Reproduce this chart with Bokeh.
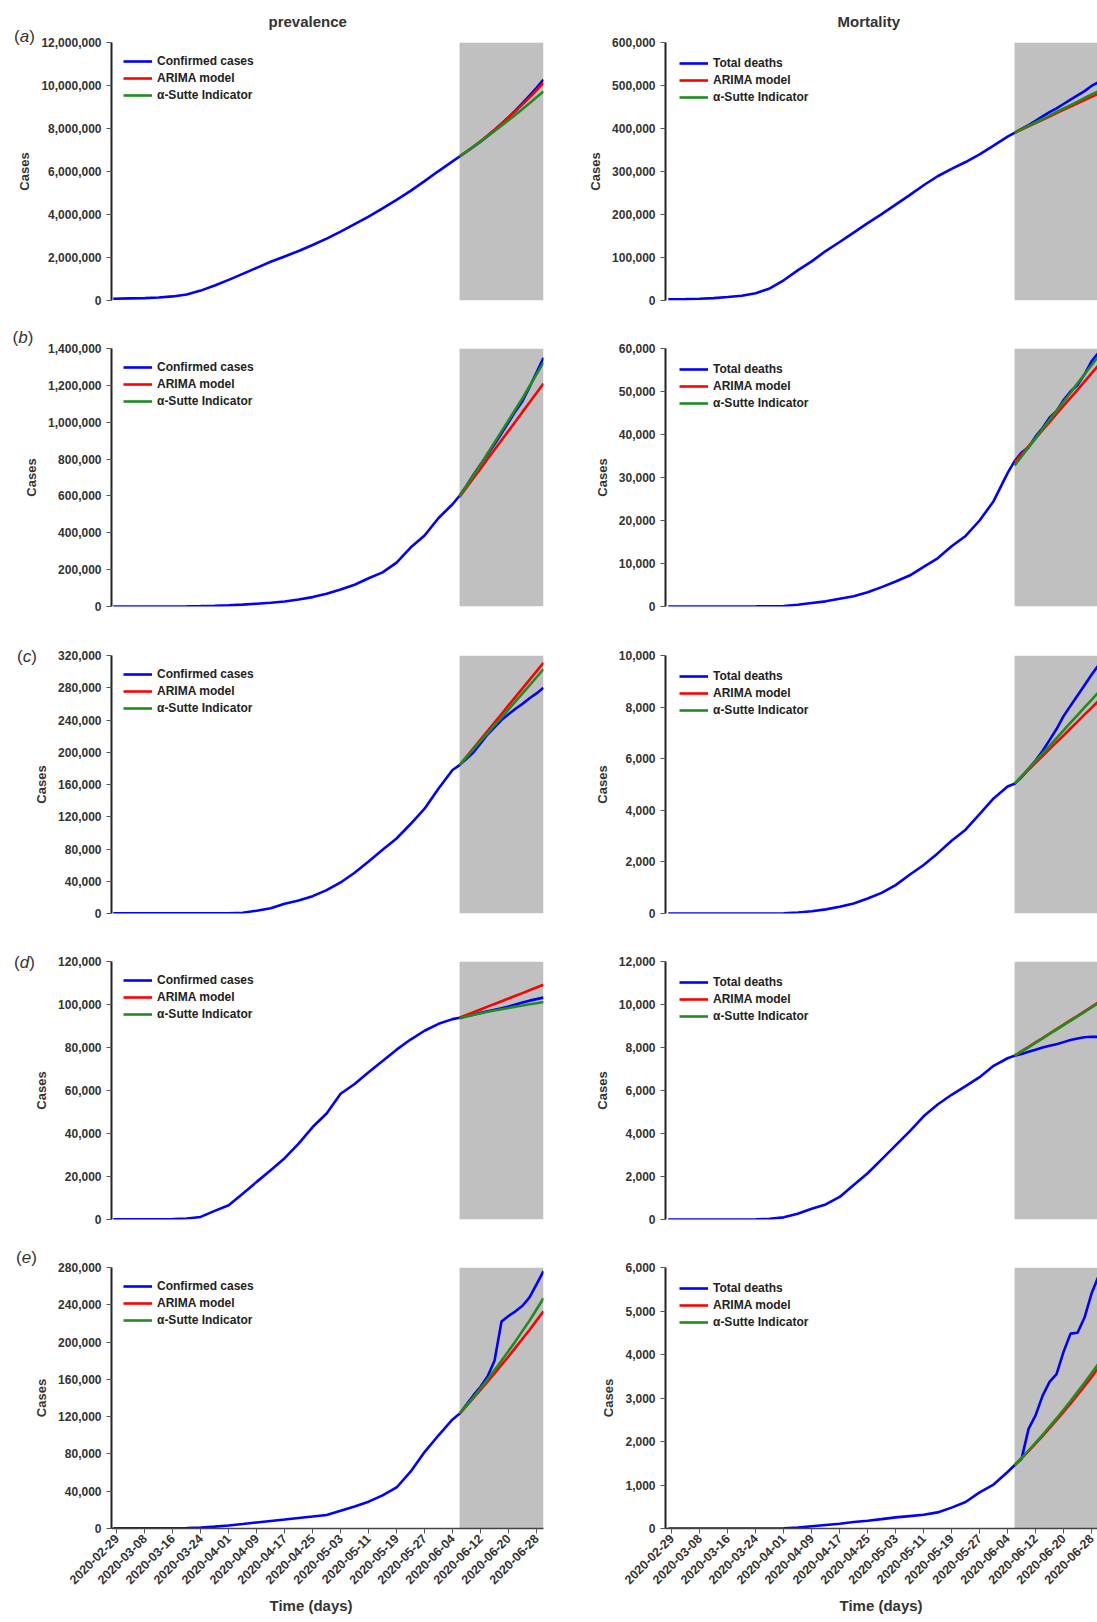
import math
import pandas as pd
from bokeh.plotting import figure
from bokeh.models import (Range1d, FixedTicker, NumeralTickFormatter, DatetimeTickFormatter,
                          BoxAnnotation, Legend, LegendItem, Title, Div)
from bokeh.layouts import column, row
from bokeh.embed import file_html
from bokeh.resources import INLINE

# ---------------- categories / labels ----------------
hist_dates = ["2020-02-28", "2020-03-04", "2020-03-08", "2020-03-12", "2020-03-16", "2020-03-20",
              "2020-03-24", "2020-03-28", "2020-04-01", "2020-04-05", "2020-04-09", "2020-04-13",
              "2020-04-17", "2020-04-21", "2020-04-25", "2020-04-29", "2020-05-03", "2020-05-07",
              "2020-05-11", "2020-05-15", "2020-05-19", "2020-05-23", "2020-05-27", "2020-05-31",
              "2020-06-04"]
test_dates = ["2020-06-06", "2020-06-08", "2020-06-10", "2020-06-12", "2020-06-14", "2020-06-16",
              "2020-06-18", "2020-06-20", "2020-06-22", "2020-06-24", "2020-06-26", "2020-06-28",
              "2020-06-30"]
x_tick_dates = ["2020-02-29", "2020-03-08", "2020-03-16", "2020-03-24", "2020-04-01", "2020-04-09",
                "2020-04-17", "2020-04-25", "2020-05-03", "2020-05-11", "2020-05-19", "2020-05-27",
                "2020-06-04", "2020-06-12", "2020-06-20", "2020-06-28"]
forecast_start = "2020-06-06"
col_titles = ["prevalence", "Mortality"]
row_letters = ["a", "b", "c", "d", "e"]
first_series = ["Confirmed cases", "Total deaths"]
arima_label = "ARIMA model"
sutte_label = "\u03b1-Sutte Indicator"
y_label = "Cases"
x_label = "Time (days)"

# ---------------- data (thousands) ----------------
# (a)
a_cases_hist_k = [80, 100, 110, 140, 190, 280, 460, 700, 960, 1240, 1520, 1800, 2050, 2300, 2580,
                  2880, 3200, 3550, 3900, 4280, 4680, 5100, 5550, 6020, 6470]
a_cases_test_k = [6700, 6920, 7150, 7390, 7640, 7930, 8220, 8520, 8840, 9180, 9530, 9890, 10270]
a_cases_arima_k = [6700, 6930, 7160, 7410, 7670, 7940, 8220, 8510, 8810, 9120, 9440, 9780, 10120]
a_cases_sutte_k = [6700, 6930, 7160, 7390, 7640, 7880, 8130, 8380, 8640, 8910, 9170, 9450, 9720]
a_deaths_hist_k = [3, 3.3, 4, 5.5, 8, 11, 17, 28, 47, 70, 91, 115, 136, 158, 180, 201, 223, 245,
                   268, 289, 306, 322, 340, 360, 381]
a_deaths_test_k = [390, 399, 408, 418, 428, 438, 447, 457, 467, 477, 487, 499, 508]
a_deaths_arima_k = [390, 397.6, 405.2, 412.8, 420.4, 428, 435.6, 443.2, 450.8, 458.4, 466, 473.6, 481]
a_deaths_sutte_k = [390, 398, 406, 414, 422, 430, 438.5, 446.5, 454.5, 462.5, 471, 479, 487]
# (b)
b_cases_hist_k = [0, 0, 0, 0.1, 0.2, 1, 2, 3.5, 6, 10, 15, 20, 27, 38, 51, 69, 92, 118, 153, 185,
                  238, 320, 385, 480, 555]
b_cases_test_k = [601, 655, 715, 770, 825, 880, 940, 1000, 1060, 1115, 1190, 1270, 1350]
b_cases_arima_k = [595, 646, 697, 748, 800, 851, 902, 953, 1004, 1056, 1107, 1158, 1210]
b_cases_sutte_k = [598, 655, 712, 770, 830, 890, 950, 1010, 1070, 1130, 1195, 1260, 1325]
b_deaths_hist_k = [0, 0, 0, 0, 0, 0.01, 0.03, 0.06, 0.1, 0.4, 0.8, 1.2, 1.8, 2.4, 3.3, 4.5, 5.8, 7.2,
                   9.2, 11.2, 14, 16.4, 20, 24.5, 31]
b_deaths_test_k = [33.8, 35.8, 37, 39.5, 41.5, 43.9, 45.5, 48, 50, 51.5, 54, 57, 59]
b_deaths_arima_k = [33.5, 35.4, 37.3, 39.1, 41, 42.9, 44.8, 46.7, 48.5, 50.4, 52.3, 54.2, 56.1]
b_deaths_sutte_k = [32.8, 34.9, 37, 39.1, 41.3, 43.4, 45.5, 47.6, 49.7, 51.9, 54, 56.1, 58.2]
# (c)
c_cases_hist_k = [0.1, 0.1, 0.1, 0.1, 0.1, 0.1, 0.1, 0.1, 0.3, 1, 3.5, 6.5, 12, 16, 21.5, 29, 38.5,
                  50.5, 64.5, 79, 93, 111, 130, 155, 178]
c_cases_test_k = [184, 192, 200, 211, 222, 231, 240, 247, 254, 260, 267, 273, 280]
c_cases_arima_k = [184, 194.6, 205.2, 215.8, 226.3, 236.9, 247.5, 258.1, 268.7, 279.3, 289.8, 300.4, 311]
c_cases_sutte_k = [184, 194, 204, 214, 223.5, 233.5, 243, 253, 263, 273, 283, 293, 303]
c_deaths_hist_k = [0, 0, 0, 0, 0, 0, 0, 0, 0.01, 0.04, 0.09, 0.16, 0.26, 0.39, 0.58, 0.8, 1.1, 1.5,
                   1.88, 2.33, 2.82, 3.25, 3.85, 4.46, 4.92]
c_deaths_test_k = [5.03, 5.28, 5.6, 5.93, 6.3, 6.72, 7.15, 7.65, 8.05, 8.45, 8.85, 9.25, 9.63]
c_deaths_arima_k = [5.03, 5.3, 5.57, 5.84, 6.1, 6.37, 6.64, 6.9, 7.17, 7.44, 7.71, 7.97, 8.24]
c_deaths_sutte_k = [5.03, 5.32, 5.62, 5.91, 6.21, 6.5, 6.8, 7.1, 7.4, 7.69, 7.99, 8.28, 8.58]
# (d)
d_cases_hist_k = [0.1, 0.1, 0.1, 0.1, 0.2, 0.5, 1.2, 4, 6.6, 12, 17.5, 22.9, 28.5, 35.3, 43, 49.3,
                  58.5, 63, 68.5, 73.7, 79, 83.7, 87.8, 91, 93.2]
d_cases_test_k = [93.8, 94.6, 95.3, 96.1, 96.9, 97.6, 98.3, 99.1, 100, 100.9, 101.8, 102.5, 103.2]
d_cases_arima_k = [93.8, 95.1, 96.4, 97.7, 99, 100.2, 101.5, 102.8, 104.1, 105.3, 106.6, 107.9, 109.2]
d_cases_sutte_k = [93.5, 94.4, 95.2, 95.9, 96.6, 97.2, 97.8, 98.4, 99, 99.5, 100.1, 100.6, 101.2]
d_deaths_hist_k = [0, 0, 0, 0, 0, 0, 0.01, 0.03, 0.1, 0.27, 0.5, 0.7, 1.05, 1.6, 2.15, 2.8, 3.45, 4.1,
                   4.8, 5.35, 5.8, 6.2, 6.62, 7.15, 7.5]
d_deaths_test_k = [7.62, 7.7, 7.8, 7.9, 8.0, 8.08, 8.15, 8.25, 8.35, 8.42, 8.48, 8.5, 8.49]
d_deaths_arima_k = [7.62, 7.83, 8.03, 8.24, 8.44, 8.65, 8.86, 9.06, 9.27, 9.47, 9.68, 9.89, 10.1]
d_deaths_sutte_k = [7.62, 7.82, 8.01, 8.22, 8.42, 8.63, 8.83, 9.04, 9.24, 9.45, 9.65, 9.86, 10.07]
# (e)
e_cases_hist_k = [0.2, 0.2, 0.2, 0.2, 0.3, 0.5, 1, 2, 3.2, 4.8, 6.5, 8.1, 9.6, 11.2, 12.8, 14.5, 19,
                  23.7, 28.8, 35.5, 44, 61, 82, 100, 117]
e_cases_test_k = [123, 133, 143, 152, 163, 180, 222, 228, 233, 239, 248, 262, 276]
e_cases_arima_k = [123, 131.5, 140, 148.7, 157.5, 166.5, 175.5, 184.5, 194, 203.5, 213, 223, 233]
e_cases_sutte_k = [123, 132, 141, 150.5, 160, 170, 180, 190.5, 201, 212, 223, 235, 247]
e_deaths_hist_k = [0, 0, 0, 0, 0, 0, 0, 0, 0.005, 0.02, 0.05, 0.08, 0.11, 0.15, 0.18, 0.215, 0.255,
                   0.285, 0.315, 0.37, 0.48, 0.61, 0.83, 1.01, 1.3]
e_deaths_test_k = [1.455, 1.6, 2.29, 2.6, 3.05, 3.37, 3.55, 4.06, 4.48, 4.5, 4.85, 5.4, 5.8]
e_deaths_arima_k = [1.455, 1.615, 1.78, 1.95, 2.125, 2.305, 2.49, 2.68, 2.87, 3.07, 3.27, 3.48, 3.7]
e_deaths_sutte_k = [1.455, 1.62, 1.79, 1.97, 2.15, 2.34, 2.53, 2.73, 2.93, 3.14, 3.35, 3.57, 3.79]

# y tick values (thousands)
a_cases_ticks_k = [0, 2000, 4000, 6000, 8000, 10000, 12000]
a_deaths_ticks_k = [0, 100, 200, 300, 400, 500, 600]
b_cases_ticks_k = [0, 200, 400, 600, 800, 1000, 1200, 1400]
b_deaths_ticks_k = [0, 10, 20, 30, 40, 50, 60]
c_cases_ticks_k = [0, 40, 80, 120, 160, 200, 240, 280, 320]
c_deaths_ticks_k = [0, 2, 4, 6, 8, 10]
d_cases_ticks_k = [0, 20, 40, 60, 80, 100, 120]
d_deaths_ticks_k = [0, 2, 4, 6, 8, 10, 12]
e_cases_ticks_k = [0, 40, 80, 120, 160, 200, 240, 280]
e_deaths_ticks_k = [0, 1, 2, 3, 4, 5, 6]

panels = [
    [(a_cases_hist_k, a_cases_test_k, a_cases_arima_k, a_cases_sutte_k, a_cases_ticks_k),
     (a_deaths_hist_k, a_deaths_test_k, a_deaths_arima_k, a_deaths_sutte_k, a_deaths_ticks_k)],
    [(b_cases_hist_k, b_cases_test_k, b_cases_arima_k, b_cases_sutte_k, b_cases_ticks_k),
     (b_deaths_hist_k, b_deaths_test_k, b_deaths_arima_k, b_deaths_sutte_k, b_deaths_ticks_k)],
    [(c_cases_hist_k, c_cases_test_k, c_cases_arima_k, c_cases_sutte_k, c_cases_ticks_k),
     (c_deaths_hist_k, c_deaths_test_k, c_deaths_arima_k, c_deaths_sutte_k, c_deaths_ticks_k)],
    [(d_cases_hist_k, d_cases_test_k, d_cases_arima_k, d_cases_sutte_k, d_cases_ticks_k),
     (d_deaths_hist_k, d_deaths_test_k, d_deaths_arima_k, d_deaths_sutte_k, d_deaths_ticks_k)],
    [(e_cases_hist_k, e_cases_test_k, e_cases_arima_k, e_cases_sutte_k, e_cases_ticks_k),
     (e_deaths_hist_k, e_deaths_test_k, e_deaths_arima_k, e_deaths_sutte_k, e_deaths_ticks_k)],
]

# ---------------- styling / layout ----------------
FONT = "Liberation Sans"
TXT = "#333333"
BLUE, RED, GREEN = "#0000ff", "#ff0000", "#1e8c1e"
GREY = "#c0c0c0"
ROW_H = [324, 306, 307, 306, 379]
ROW_TOP = [42, 24, 25, 24, 24]
ROW_BOT = [24, 24, 24, 24, 94]
LETTER_X = [14, 12.5, 17, 14, 16]
LETTER_Y = [36.7, 14, 26.7, 26.3, 15.3]
LETTER_BOX = 40
TITLE_DX = [157, 172]
XLAB_DX = [158, 174]


def ms(s):
    return pd.Timestamp(s).value / 1e6


def make_panel(r, side, hist_k, test_k, arima_k, sutte_k, ticks_k):
    if side == 0:
        width, bl, br = 560, 111, 17
        xs, xe = ms("2020-02-27 12:00"), ms("2020-06-30 00:00")
    else:
        width, bl, br = 537, 105, 0
        xs, xe = ms("2020-02-27 05:00"), ms("2020-06-29 17:00")
    ymax = ticks_k[-1] * 1000
    p = figure(width=width, height=ROW_H[r], x_axis_type="datetime",
               x_range=Range1d(xs, xe), y_range=Range1d(0, ymax),
               output_backend="svg", toolbar_location=None,
               min_border_left=bl, min_border_right=br,
               min_border_top=ROW_TOP[r], min_border_bottom=ROW_BOT[r])
    p.outline_line_color = None
    p.xgrid.visible = False
    p.ygrid.visible = False
    p.background_fill_color = "white"
    p.border_fill_color = None if side == 0 else "white"

    p.add_layout(BoxAnnotation(left=ms(forecast_start), fill_color=GREY, fill_alpha=1.0,
                               line_alpha=0, level="underlay"))

    xb = pd.to_datetime(hist_dates + test_dates)
    yb = [v * 1000 for v in hist_k + test_k]
    xt = pd.to_datetime(test_dates)
    rb = p.line(xb, yb, line_color=BLUE, line_width=2.6)
    rr = p.line(xt, [v * 1000 for v in arima_k], line_color=RED, line_width=2.6)
    rg = p.line(xt, [v * 1000 for v in sutte_k], line_color=GREEN, line_width=2.6)

    leg = Legend(items=[LegendItem(label=first_series[side], renderers=[rb]),
                        LegendItem(label=arima_label, renderers=[rr]),
                        LegendItem(label=sutte_label, renderers=[rg])],
                 location="top_left", margin=12 if side == 0 else 14, padding=0,
                 spacing=3, glyph_width=29, glyph_height=14, label_height=14,
                 label_standoff=5, border_line_alpha=0, background_fill_alpha=0,
                 label_text_font=FONT, label_text_font_style="bold",
                 label_text_font_size="12px", label_text_color="#222222")
    p.add_layout(leg)

    ya = p.yaxis[0]
    ya.ticker = FixedTicker(ticks=[v * 1000 for v in ticks_k])
    ya.formatter = NumeralTickFormatter(format="0,0")
    ya.axis_label = y_label
    ya.axis_label_text_font = FONT
    ya.axis_label_text_font_style = "bold"
    ya.axis_label_text_font_size = "13px"
    ya.axis_label_text_color = TXT
    ya.axis_label_standoff = 6
    ya.major_label_text_font = FONT
    ya.major_label_text_font_style = "bold"
    ya.major_label_text_font_size = "12px"
    ya.major_label_text_color = TXT
    ya.major_label_standoff = 5
    ya.axis_line_width = 2
    ya.axis_line_color = "#222222"
    ya.major_tick_out = 5
    ya.major_tick_in = 0
    ya.major_tick_line_color = "#555555"
    ya.minor_tick_line_color = None

    xa = p.xaxis[0]
    if r == 4:
        xa.ticker = FixedTicker(ticks=[ms(d) for d in x_tick_dates])
        fmt = "%Y-%m-%d"
        xa.formatter = DatetimeTickFormatter(days=fmt, months=fmt, years=fmt, hours=fmt)
        xa.major_label_orientation = math.pi / 4
        xa.major_label_text_font = FONT
        xa.major_label_text_font_style = "bold"
        xa.major_label_text_font_size = "12.5px"
        xa.major_label_text_color = TXT
        xa.major_label_standoff = 3
        xa.axis_line_width = 1.5
        xa.axis_line_color = "#444444"
        xa.major_tick_out = 5
        xa.major_tick_in = 0
        xa.major_tick_line_color = "#555555"
        xa.minor_tick_line_color = None
        p.add_layout(Title(text=x_label, align="left", offset=XLAB_DX[side], vertical_align="top",
                           standoff=10, text_font=FONT, text_font_style="bold",
                           text_font_size="15px", text_color=TXT), "below")
    else:
        xa.visible = False

    if r == 0:
        p.add_layout(Title(text=col_titles[side], align="left", offset=TITLE_DX[side],
                           vertical_align="top", standoff=22, text_font=FONT,
                           text_font_style="bold", text_font_size="15px", text_color=TXT), "above")
    return p


def letter_div(r):
    letter = row_letters[r]
    html = ('<div style="position:relative;left:%.1fpx;top:%.1fpx;font-family:\'Liberation Sans\';'
            'font-size:17px;line-height:20px;color:%s;white-space:nowrap;">(<i>%s</i>)</div>'
            % (LETTER_X[r], LETTER_Y[r] - 10, TXT, letter))
    return Div(text=html, width=LETTER_BOX, height=ROW_H[r], margin=(0, -LETTER_BOX, 0, 0),
               styles={"z-index": "5"})


rows = []
for r in range(5):
    figs = [make_panel(r, s, *panels[r][s]) for s in range(2)]
    rows.append(row(letter_div(r), *figs))
layout = column(*rows)

open("out.html", "w").write(file_html(layout, INLINE))
